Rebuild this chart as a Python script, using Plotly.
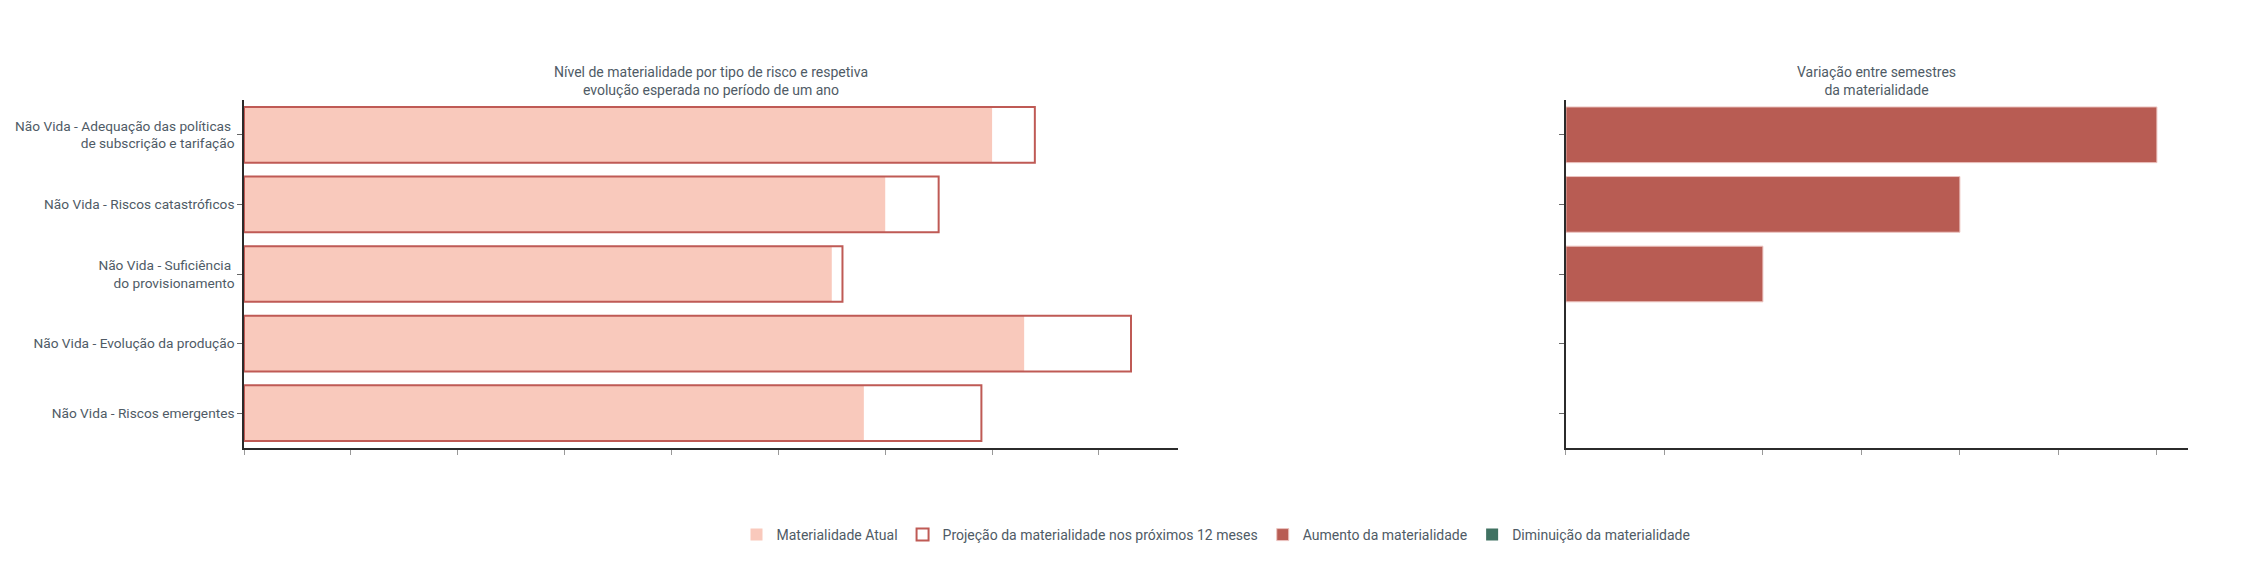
import plotly.graph_objects as go

# categories, top to bottom
riscos = [
    "Não Vida - Adequação das políticas <br>de subscrição e tarifação",
    "Não Vida - Riscos catastróficos",
    "Não Vida - Suficiência <br>do provisionamento",
    "Não Vida - Evolução da produção",
    "Não Vida - Riscos emergentes",
]
materialidade_atual = [3.5, 3.0, 2.75, 3.65, 2.9]
projecao_12m = [3.7, 3.25, 2.8, 4.15, 3.45]
aumento = [0.3, 0.2, 0.1, None, None]
diminuicao = [None, None, None, None, None]

TXT = "#4f5b66"
ROSA = "#f9c9bc"
VERMELHO = "#bf5a55"
AUMENTO = "#b85c53"
VERDE = "#407262"

fig = go.Figure()
fig.add_trace(go.Bar(
    y=riscos, x=materialidade_atual, orientation="h",
    name="Materialidade Atual", xaxis="x", yaxis="y",
    marker=dict(color=ROSA, line=dict(width=0)),
))
fig.add_trace(go.Bar(
    y=riscos, x=projecao_12m, orientation="h",
    name="Projeção da materialidade nos próximos 12 meses",
    xaxis="x", yaxis="y",
    marker=dict(color="rgba(0,0,0,0)", line=dict(color=VERMELHO, width=2)),
))
fig.add_trace(go.Bar(
    y=riscos, x=aumento, orientation="h",
    name="Aumento da materialidade", xaxis="x2", yaxis="y2",
    marker=dict(color=AUMENTO, line=dict(color="#ecc4c0", width=1)),
))
fig.add_trace(go.Bar(
    y=riscos, x=diminuicao, orientation="h",
    name="Diminuição da materialidade", xaxis="x2", yaxis="y2",
    marker=dict(color=VERDE, line=dict(width=0)),
))

eixo = dict(showline=True, linecolor="#2b2b2b", linewidth=1.5,
            showgrid=False, zeroline=False)

# the page puts the figure 8px in from the top-left corner
fig.update_layout(
    width=2268, height=564,
    margin=dict(l=236, r=88, t=92, b=124),
    paper_bgcolor="white", plot_bgcolor="white",
    font=dict(family="Roboto", size=14, color=TXT),
    barmode="overlay", bargap=0.2,
    showlegend=True,
    legend=dict(orientation="h", x=0.5, xanchor="center",
                y=-0.25, yanchor="middle", font=dict(size=14, color=TXT)),
    xaxis=dict(domain=[0, 0.4803], anchor="y", ticks="outside", ticklen=5,
               tickcolor="#999", dtick=0.5, showticklabels=False, **eixo),
    yaxis=dict(anchor="x", autorange="reversed", ticks="outside", ticklen=5,
               tickcolor="#666", automargin=False,
               tickfont=dict(size=13.7, color=TXT), **eixo),
    xaxis2=dict(domain=[0.680, 1], anchor="y2", ticks="outside", ticklen=5,
                tickcolor="#999", dtick=0.05, showticklabels=False, **eixo),
    yaxis2=dict(anchor="x2", autorange="reversed", ticks="outside", ticklen=5,
                tickcolor="#666", showticklabels=False, **eixo),
    annotations=[
        dict(text="Nível de materialidade por tipo de risco e respetiva<br>"
                  "evolução esperada no período de um ano",
             x=0.24, y=1, xref="paper", yref="paper", xanchor="center",
             yanchor="bottom", showarrow=False, font=dict(size=14, color=TXT)),
        dict(text="Variação entre semestres<br>da materialidade",
             x=0.84, y=1, xref="paper", yref="paper", xanchor="center",
             yanchor="bottom", showarrow=False, font=dict(size=14, color=TXT)),
    ],
)

fig.write_html("out.html")
